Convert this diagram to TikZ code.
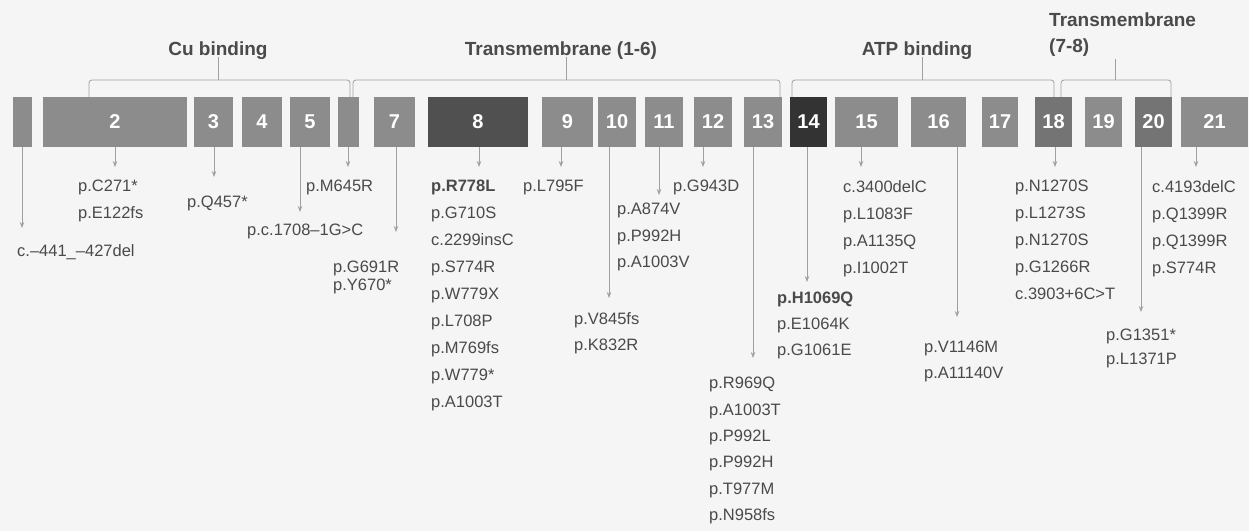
\documentclass[tikz,border=0pt]{standalone}
\usepackage{fontspec}
\setmainfont{Liberation Sans}
\usetikzlibrary{arrows.meta}
\definecolor{exgray}{HTML}{8C8C8C}
\definecolor{exmid}{HTML}{747474}
\definecolor{exdark}{HTML}{505050}
\definecolor{exblack}{HTML}{333333}
\definecolor{ink}{HTML}{4A4A4A}
\definecolor{wire}{HTML}{A0A0A0}
\tikzset{
  exon/.style={
    fill=exgray,
    minimum height=50pt,
    inner sep=0pt,
    text=white,
    font=\fontsize{20}{24}\selectfont\bfseries
  },
  mut/.style={
    anchor=north west,
    align=left,
    inner sep=0pt,
    text=ink,
    font=\fontsize{16.5}{#1}\selectfont
  },
  mut/.default=27,
  region/.style={
    anchor=base,
    inner sep=0pt,
    text=ink,
    font=\fontsize{19}{26}\selectfont\bfseries
  },
  brace/.style={
    draw=wire,
    line width=0.8pt,
    rounded corners=3pt
  },
  hit/.style={
    draw=wire,
    line width=0.8pt,
    -{Stealth[length=6pt,width=4.5pt]}
  }
}

\begin{document}
\begin{tikzpicture}[x=1pt,y=-1pt]
  \fill[black!4] (0,0) rectangle (1249,531);
  \useasboundingbox (0,0) rectangle (1249,531);

  % exons
  \foreach \num/\lft/\rgt/\txt/\col in {1/13/32/{}/exgray, 2/43/187/2/exgray,
      3/194/233/3/exgray, 4/242/282/4/exgray, 5/290/330/5/exgray,
      6/338/359/{}/exgray, 7/374/415/7/exgray, 8/428/528/8/exdark,
      9/542/593/9/exgray, 10/598/636/10/exgray, 11/645/683/11/exgray,
      12/694/732/12/exgray, 13/744/782/13/exgray, 14/790/827/14/exblack,
      15/835/898/15/exgray, 16/911/966/16/exgray, 17/982/1018/17/exgray,
      18/1035/1072/18/exmid, 19/1085/1122/19/exgray, 20/1135/1172/20/exmid,
      21/1181/1248/21/exgray}{
    \node[exon,fill=\col,minimum width={(\rgt-\lft)*1pt}] (e\num) at ({(\lft+\rgt)/2},122) {\txt};
  }

  % protein regions
  \node[region] (cu) at (218,55) {Cu binding};
  \node[region] (tm1) at (561,55) {Transmembrane (1-6)};
  \node[region] (atp) at (917,55) {ATP binding};
  \node[region,anchor=north west,align=left] (tm2) at (1049,13) {Transmembrane\\(7-8)};

  \coordinate (cuL) at (89,80);    \coordinate (cuR) at (350,80);   \coordinate (cuM) at (218,80);
  \coordinate (tm1L) at (353,80);  \coordinate (tm1R) at (780,80);  \coordinate (tm1M) at (566,80);
  \coordinate (atpL) at (792,80);  \coordinate (atpR) at (1054,80); \coordinate (atpM) at (922,80);
  \coordinate (tm2L) at (1061,80); \coordinate (tm2R) at (1171,80); \coordinate (tm2M) at (1115,80);

  \draw[brace] (e2.north -| cuL) -- (cuL) -- (cuR) -- (e6.north -| cuR);
  \draw[brace] (e6.north -| tm1L) -- (tm1L) -- (tm1R) -- (e13.north -| tm1R);
  \draw[brace] (e14.north -| atpL) -- (atpL) -- (atpR) -- (e18.north -| atpR);
  \draw[brace] (e18.north -| tm2L) -- (tm2L) -- (tm2R) -- (e20.north -| tm2R);

  \draw[brace] (cuM) -- ([yshift=2pt]cu.south -| cuM);
  \draw[brace] (tm1M) -- ([yshift=2pt]tm1.south -| tm1M);
  \draw[brace] (atpM) -- ([yshift=2pt]atp.south -| atpM);
  \draw[brace] (tm2M) -- ([yshift=-2pt]tm2.south -| tm2M);

  % mutations
  \foreach \num/\x/\y in {1/22/228, 2/115/167, 3/214/177, 5/300/212,
      6/348/167, 7/396/232, 8/479/167, 9/561/167, 10/609/298, 11/659/195,
      12/703/167, 13/753/358, 14/807/282, 15/861/167, 16/957/317,
      18/1055/167, 20/1141/312, 21/1196/167}{
    \coordinate (t\num) at (\x,\y);
    \draw[hit] (e\num.south -| t\num) -- (t\num);
  }

  \node[mut] (m1) at (17,244) {c.–441\_–427del};
  \node[mut] (m2) at (78,180) {p.C271*\\p.E122fs};
  \node[mut] (m3) at (187,196) {p.Q457*};
  \node[mut] (m5) at (247,224) {p.c.1708–1G>C};
  \node[mut] (m6) at (306,180) {p.M645R};
  \node[mut=17.5] (m7) at (333,261) {p.G691R\\p.Y670*};
  \node[mut] (m8) at (431,180) {\textbf{p.R778L}\\p.G710S\\c.2299insC\\p.S774R\\p.W779X\\p.L708P\\p.M769fs\\p.W779*\\p.A1003T};
  \node[mut] (m9) at (523,180) {p.L795F};
  \node[mut=26] (m10) at (574,312) {p.V845fs\\p.K832R};
  \node[mut=26.5] (m11) at (617,203) {p.A874V\\p.P992H\\p.A1003V};
  \node[mut] (m12) at (673,180) {p.G943D};
  \node[mut=26.4] (m13) at (709,377) {p.R969Q\\p.A1003T\\p.P992L\\p.P992H\\p.T977M\\p.N958fs};
  \node[mut=26] (m14) at (777,292) {\textbf{p.H1069Q}\\p.E1064K\\p.G1061E};
  \node[mut] (m15) at (843,180) {c.3400delC\\p.L1083F\\p.A1135Q\\p.I1002T};
  \node[mut=25.5] (m16) at (924,341) {p.V1146M\\p.A11140V};
  \node[mut] (m18) at (1015,180) {p.N1270S\\p.L1273S\\p.N1270S\\p.G1266R\\c.3903+6C>T};
  \node[mut=24] (m20) at (1106,329) {p.G1351*\\p.L1371P};
  \node[mut] (m21) at (1152,180) {c.4193delC\\p.Q1399R\\p.Q1399R\\p.S774R};
\end{tikzpicture}
\end{document}
